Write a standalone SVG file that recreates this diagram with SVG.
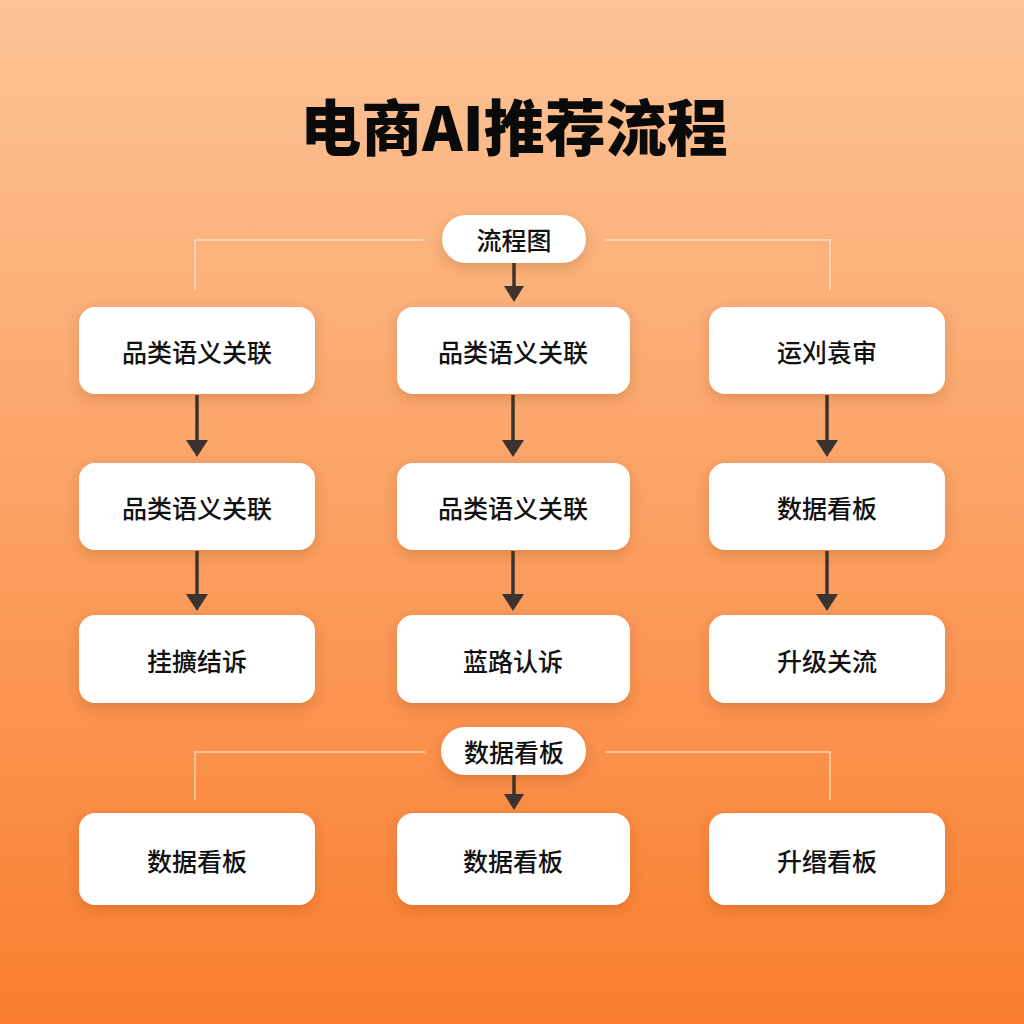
<svg xmlns="http://www.w3.org/2000/svg" width="1024" height="1024" viewBox="0 0 1024 1024">
<defs>
<linearGradient id="bg" x1="0" y1="0" x2="0" y2="1">
<stop offset="0" stop-color="#FCC497"/>
<stop offset="0.5" stop-color="#FBA163"/>
<stop offset="1" stop-color="#FA7E2E"/>
</linearGradient>
<filter id="sh" x="-20%" y="-30%" width="140%" height="170%">
<feDropShadow dx="0" dy="5" stdDeviation="7" flood-color="#7a3000" flood-opacity="0.22"/>
</filter>
<style>
.box{fill:#ffffff;filter:url(#sh)}
.t{font-family:"Noto Sans CJK SC","Noto Sans",sans-serif;font-size:25px;font-weight:500;fill:#111;text-anchor:middle;dominant-baseline:central}
.arr{stroke:#3a3330;stroke-width:3.5;fill:none}
.head{fill:#3a3330}
.thin{stroke:#fde3cc;stroke-width:1.5;fill:none;opacity:0.8}
</style>
</defs>
<rect width="1024" height="1024" fill="url(#bg)"/>
<text x="514" y="124" font-family="'Noto Sans CJK SC',sans-serif" font-size="61" font-weight="900" fill="#0a0a0a" text-anchor="middle" dominant-baseline="central">电商AI推荐流程</text>

<g id="connectors">
<polyline class="thin" points="195,290 195,240 425,240"/>
<polyline class="thin" points="605,240 830,240 830,290"/>
<polyline class="thin" points="195,800 195,752 425,752"/>
<polyline class="thin" points="605,752 830,752 830,800"/>
<line class="arr" x1="514" y1="263" x2="514" y2="288"/>
<path class="head" d="M504,286 L524,286 L514,302 z"/>
<line class="arr" x1="197" y1="395" x2="197" y2="442"/>
<path class="head" d="M186,440 L208,440 L197,457 z"/>
<line class="arr" x1="513" y1="395" x2="513" y2="442"/>
<path class="head" d="M502,440 L524,440 L513,457 z"/>
<line class="arr" x1="827" y1="395" x2="827" y2="442"/>
<path class="head" d="M816,440 L838,440 L827,457 z"/>
<line class="arr" x1="197" y1="551" x2="197" y2="596"/>
<path class="head" d="M186,594 L208,594 L197,611 z"/>
<line class="arr" x1="513" y1="551" x2="513" y2="596"/>
<path class="head" d="M502,594 L524,594 L513,611 z"/>
<line class="arr" x1="827" y1="551" x2="827" y2="596"/>
<path class="head" d="M816,594 L838,594 L827,611 z"/>
<line class="arr" x1="514" y1="775" x2="514" y2="796"/>
<path class="head" d="M504,794 L524,794 L514,810 z"/>
</g>

<g id="pill-top"><rect class="box" x="442" y="215" width="144" height="48" rx="24"/><text class="t" x="514" y="239">流程图</text></g>

<g id="n11"><rect class="box" x="79" y="307" width="236" height="87" rx="16"/><text class="t" x="197" y="351">品类语义关联</text></g>
<g id="n12"><rect class="box" x="397" y="307" width="233" height="87" rx="16"/><text class="t" x="513" y="351">品类语义关联</text></g>
<g id="n13"><rect class="box" x="709" y="307" width="236" height="87" rx="16"/><text class="t" x="827" y="351">运刈袁审</text></g>

<g id="n21"><rect class="box" x="79" y="463" width="236" height="87" rx="16"/><text class="t" x="197" y="507">品类语义关联</text></g>
<g id="n22"><rect class="box" x="397" y="463" width="233" height="87" rx="16"/><text class="t" x="513" y="507">品类语义关联</text></g>
<g id="n23"><rect class="box" x="709" y="463" width="236" height="87" rx="16"/><text class="t" x="827" y="507">数据看板</text></g>

<g id="n31"><rect class="box" x="79" y="615" width="236" height="88" rx="16"/><text class="t" x="197" y="660">挂擴结诉</text></g>
<g id="n32"><rect class="box" x="397" y="615" width="233" height="88" rx="16"/><text class="t" x="513" y="660">蓝路认诉</text></g>
<g id="n33"><rect class="box" x="709" y="615" width="236" height="88" rx="16"/><text class="t" x="827" y="660">升级关流</text></g>

<g id="pill-bottom"><rect class="box" x="441" y="727" width="145" height="48" rx="24"/><text class="t" x="514" y="751">数据看板</text></g>

<g id="n41"><rect class="box" x="79" y="813" width="236" height="92" rx="16"/><text class="t" x="197" y="860">数据看板</text></g>
<g id="n42"><rect class="box" x="397" y="813" width="233" height="92" rx="16"/><text class="t" x="513" y="860">数据看板</text></g>
<g id="n43"><rect class="box" x="709" y="813" width="236" height="92" rx="16"/><text class="t" x="827" y="860">升缗看板</text></g>
</svg>
